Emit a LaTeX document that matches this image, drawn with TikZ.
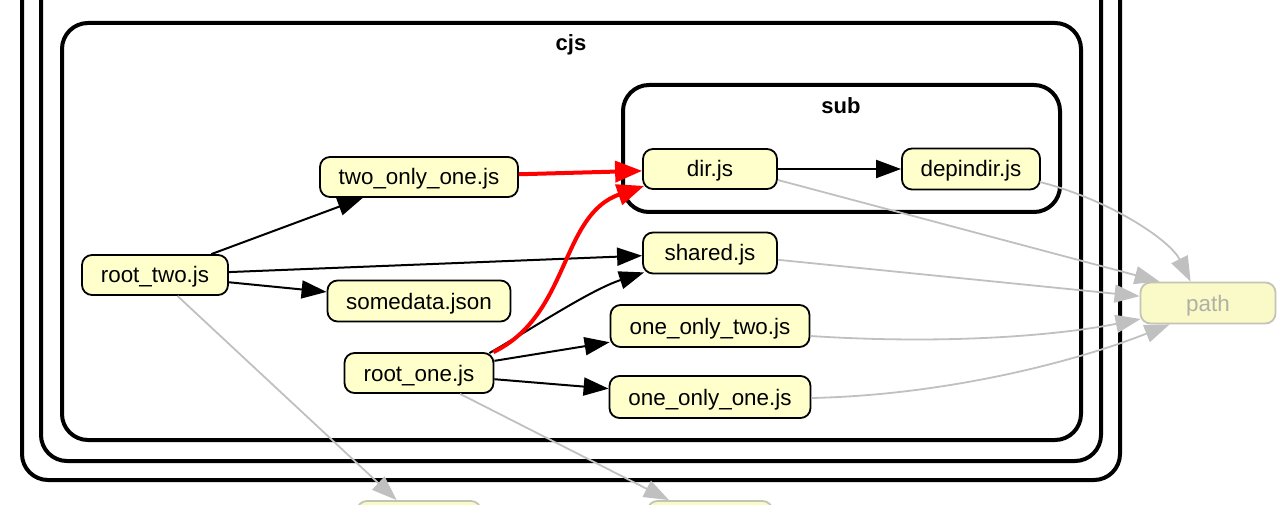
\documentclass[tikz,border=0pt]{standalone}
\usepackage{fontspec}
\setmainfont{Liberation Sans}
\usetikzlibrary{arrows.meta,calc}
\definecolor{nodefill}{HTML}{FFFFCC}
\definecolor{fadefill}{HTML}{FAFAC8}
\definecolor{fadeline}{HTML}{C4C4B4}
\definecolor{fadetext}{HTML}{B0B0A4}
\definecolor{edgegray}{HTML}{C0C0C0}
\definecolor{edgered}{HTML}{FF0000}
\tikzset{
  mod/.style={draw=black, line width=1.8pt, fill=nodefill, rounded corners=10pt,
    inner sep=0pt, text height=18pt, text depth=2pt, font=\fontsize{22.4}{25}\selectfont},
  fademod/.style={draw=fadeline, line width=1.8pt, fill=fadefill, rounded corners=10pt,
    inner sep=0pt, text height=18pt, text depth=2pt, text=fadetext, font=\fontsize{22.4}{25}\selectfont},
  cluster/.style={draw=black, line width=4pt, rounded corners=26pt},
  clabel/.style={font=\bfseries\fontsize{22}{25}\selectfont, inner sep=0pt},
  dep/.style={draw=black, line width=2pt, -{Triangle[length=25pt,width=18pt]}},
  reddep/.style={draw=edgered, line width=4pt, -{Triangle[length=27pt,width=21pt]}},
  graydep/.style={draw=edgegray, line width=1.8pt, -{Triangle[length=25pt,width=18pt]}},
}
\begin{document}
\begin{tikzpicture}[x=1pt,y=-1pt]
\useasboundingbox (0,0) rectangle (1280,505);
\clip (0,0) rectangle (1280,505);
% clusters
\draw[cluster] (22,-40) rectangle (1120,480);
\draw[cluster] (41,-40) rectangle (1101,461);
\draw[cluster] (62,23) rectangle (1081,440);
\node[clabel] (cjslabel) at (571,45) {cjs};
\draw[cluster] (623,85) rectangle (1060,212);
\node[clabel] (sublabel) at (841,106) {sub};
% nodes
\node[mod, minimum width=134pt, minimum height=40pt] (dir) at (710,169) {dir.js};
\node[mod, minimum width=138pt, minimum height=41pt] (depindir) at (971,169) {depindir.js};
\node[mod, minimum width=198pt, minimum height=40pt] (two) at (419,177) {two\_only\_one.js};
\node[mod, minimum width=146pt, minimum height=40pt] (roottwo) at (155,275) {root\_two.js};
\node[mod, minimum width=134pt, minimum height=41pt] (shared) at (710,253) {shared.js};
\node[mod, minimum width=183pt, minimum height=41pt] (somedata) at (419,301) {somedata.json};
\node[mod, minimum width=199pt, minimum height=42pt] (oot) at (710,326) {one\_only\_two.js};
\node[mod, minimum width=149pt, minimum height=40pt] (rootone) at (419,373) {root\_one.js};
\node[mod, minimum width=201pt, minimum height=42pt] (ooo) at (710,397) {one\_only\_one.js};
\node[fademod, minimum width=135pt, minimum height=41pt] (path) at (1208,303) {path};
\node[fademod, minimum width=124pt, minimum height=40pt] (b1) at (419,521) {};
\node[fademod, minimum width=125pt, minimum height=40pt] (b2) at (710,521) {};
% edges
\draw[dep] (roottwo) -- (two);
\draw[dep] (roottwo) -- (shared);
\draw[dep] (roottwo) -- (somedata);
\draw[dep] (rootone) -- (oot);
\draw[dep] (rootone) -- (ooo);
\draw[dep] ($(rootone.north east)+(-5,1)$) .. controls (530,330) and (590,290) .. ($(shared.south west)+(2,-2)$);
\draw[dep] (dir) -- (depindir);
\draw[reddep] (two) -- (dir);
\draw[reddep] ($(rootone.north east)+(-1,0)$) .. controls (570,315) and (560,215) .. ($(dir.south west)+(2,-4)$);
\draw[graydep] (roottwo) -- (b1);
\draw[graydep] (rootone) -- (b2);
\draw[graydep] ($(dir.east)+(0,11)$) -- ($(path.north west)+(20,0)$);
\draw[graydep] ($(depindir.east)+(-1,13)$) .. controls (1110,200) and (1170,240) .. ($(path.north west)+(51,0)$);
\draw[graydep] (shared) -- (path);
\draw[graydep] ($(oot.east)+(0,10)$) .. controls (950,345) and (1060,335) .. ($(path.west)+(1,16)$);
\draw[graydep] ($(ooo.east)+(0,1)$) .. controls (950,395) and (1080,360) .. ($(path.south west)+(30,0)$);
\end{tikzpicture}
\end{document}
